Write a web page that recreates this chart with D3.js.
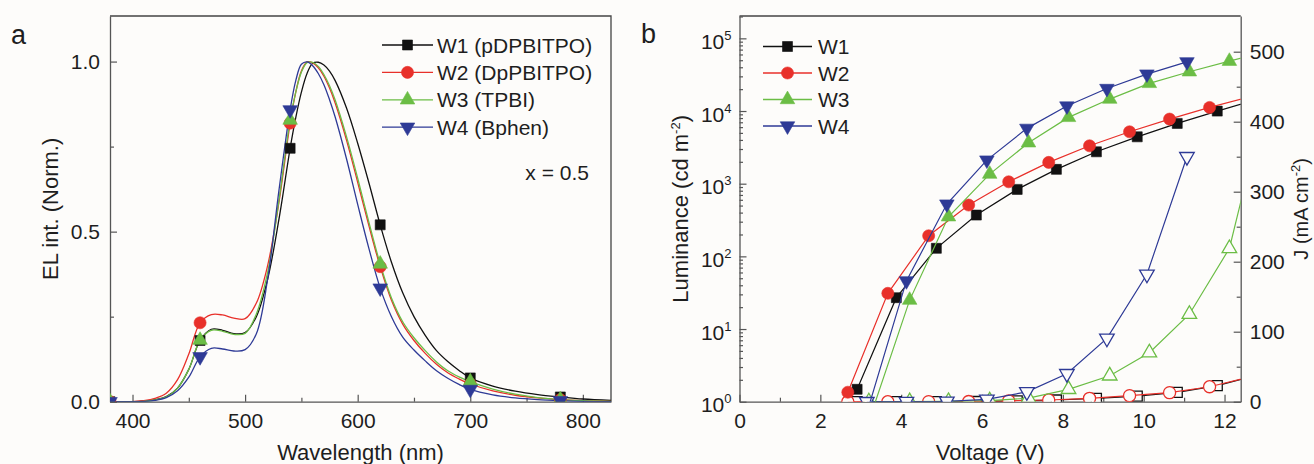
<!DOCTYPE html>
<html>
<head>
<meta charset="utf-8">
<script src="https://cdn.jsdelivr.net/npm/d3@7"></script>
<style>
  body { margin: 0; background: #fdfcfa; }
  svg { display: block; font-family: "Liberation Sans", Arial, sans-serif; }
</style>
</head>
<body>
<svg id="chart" width="1314" height="464"></svg>
<script>
// ---- data: panel a (EL spectra, normalised) ----
const wavelengths = [380,390,400,410,420,430,440,450,460,470,480,490,500,510,520,530,540,545,550,555,560,565,570,575,580,590,600,610,620,630,640,650,660,670,680,690,700,720,740,760,780,800,825];
const elW1 = [0,0,0,0.002,0.006,0.015,0.04,0.095,0.18,0.213,0.21,0.2,0.203,0.25,0.36,0.535,0.745,0.835,0.91,0.965,0.995,0.998,0.99,0.972,0.944,0.864,0.76,0.643,0.52,0.41,0.32,0.25,0.195,0.15,0.118,0.092,0.07,0.046,0.031,0.021,0.014,0.008,0.004];
const elW2 = [0,0,0,0.003,0.01,0.025,0.065,0.14,0.232,0.256,0.255,0.246,0.244,0.29,0.4,0.585,0.819,0.91,0.972,0.999,0.996,0.982,0.957,0.922,0.878,0.77,0.645,0.517,0.397,0.298,0.228,0.18,0.142,0.11,0.085,0.067,0.052,0.032,0.019,0.011,0.006,0.003,0.001];
const elW3 = [0,0,0,0.001,0.005,0.014,0.04,0.095,0.181,0.21,0.207,0.198,0.201,0.258,0.38,0.59,0.828,0.91,0.969,0.997,0.998,0.986,0.962,0.929,0.887,0.78,0.657,0.527,0.405,0.305,0.235,0.188,0.15,0.117,0.091,0.073,0.059,0.037,0.022,0.012,0.006,0.003,0.001];
const elW4 = [0,0,0,0.001,0.004,0.012,0.032,0.072,0.132,0.157,0.155,0.149,0.153,0.2,0.36,0.62,0.858,0.944,0.992,0.999,0.988,0.965,0.932,0.888,0.837,0.715,0.58,0.45,0.334,0.25,0.19,0.152,0.12,0.091,0.069,0.051,0.036,0.02,0.011,0.006,0.003,0.001,0];
const markerWaves = [380,460,540,620,700,780];
const waveTicks = [400,500,600,700,800];
const waveMinor = [450,550,650,750];
const elTicks = [0,0.5,1.0];
const elMinor = [0.25,0.75];
const namesA = ["W1 (pDPBITPO)","W2 (DpPBITPO)","W3 (TPBI)","W4 (Bphen)"];

// ---- data: panel b (luminance and current density vs voltage) ----
const voltW1 = [2.91,3.88,4.87,5.86,6.87,7.84,8.83,9.84,10.83,11.82,12.8];
const lumW1  = [1.48,27,129,370,835,1574,2746,4415,6750,9970,14500];
const curW1  = [0,0,0.1,0.3,1.2,2.4,4.8,8.1,13.4,22.9,38];
const voltW2 = [2.68,3.67,4.68,5.67,6.66,7.65,8.66,9.65,10.64,11.63,12.6];
const lumW2  = [1.35,31,192,508,1062,1963,3321,5176,7740,11200,15500];
const curW2  = [0,0,0.05,0.2,1.2,2.4,4.8,8.6,12.9,21.4,35];
const voltW3 = [3.2,4.21,5.17,6.19,7.15,8.14,9.16,10.14,11.13,12.12,13.1];
const lumW3  = [0.54,25,351,1355,3656,8170,14600,24000,34700,48500,67000];
const curW3  = [0,0.2,0.5,1.5,5,17.7,37,70,125,219,450];
const voltW4 = [3.15,4.13,5.13,6.12,7.11,8.1,9.09,10.08,11.07];
const lumW4  = [0.7,46,524,2112,5770,11700,20400,32200,47500];
const curW4  = [0,0.1,0.5,3.4,14,40,90.5,182,350];
const voltTicks = [0,2,4,6,8,10,12];
const voltMinor = [1,3,5,7,9,11];
const lumTicks = [1,10,100,1000,10000,100000];
const curTicks = [0,100,200,300,400,500];
const curMinor = [50,150,250,350,450];
const namesB = ["W1","W2","W3","W4"];

// ---- style ----
const colors = ["#111111","#e8302a","#6bbd45","#2e3a96"];
const symbols = ["square","circle","up","down"];
const FONT = "Liberation Sans, Arial, sans-serif";
const axisColor = "#555";
const textColor = "#1e1e1e";

const svg = d3.select("#chart");
const defs = svg.append("defs");

function symbolPath(kind){
    if (kind === "square") return d3.symbol(d3.symbolSquare, 100)();
    if (kind === "circle") return d3.symbol(d3.symbolCircle, 115)();
    return d3.symbol(d3.symbolTriangle, 92)();
}
function addMarker(g, kind, x, y, color, open){
    g.append("path")
        .attr("d", symbolPath(kind))
        .attr("transform", `translate(${x},${y})` + (kind === "down" ? " rotate(180)" : ""))
        .attr("fill", open ? "#fdfcfa" : color)
        .attr("stroke", color)
        .attr("stroke-width", open ? 1.3 : 0.6);
}
function styleAxis(g){
    g.attr("font-family", FONT).attr("font-size", 21);
    g.selectAll("line").attr("stroke", axisColor).attr("stroke-width", 1.2);
    g.selectAll("path.domain").attr("stroke", axisColor).attr("stroke-width", 1.3);
    g.selectAll("text").attr("fill", textColor);
}
function minorAxis(g){
    g.select(".domain").remove();
    g.selectAll("line").attr("stroke", axisColor).attr("stroke-width", 1.2);
}

// ================= panel a =================
const A = {l: 110, r: 611, t: 16, b: 401.7};
const xA = d3.scaleLinear([380, 825], [A.l, A.r]);
const yA = d3.scaleLinear([0, 1.134], [A.b, A.t]);

defs.append("clipPath").attr("id", "clipA").append("rect")
    .attr("x", A.l).attr("y", A.t).attr("width", A.r - A.l).attr("height", A.b - A.t);

const ga = svg.append("g");

// frame
ga.append("path").attr("d", `M${A.l},${A.t}H${A.r}V${A.b}`)
    .attr("fill", "none").attr("stroke", "#444").attr("stroke-width", 1.3);

ga.append("g").attr("transform", `translate(0,${A.b})`)
    .call(d3.axisBottom(xA).tickValues(waveTicks).tickSizeInner(-7).tickSizeOuter(0).tickPadding(11))
    .call(styleAxis);
ga.append("g").attr("transform", `translate(0,${A.b})`)
    .call(d3.axisBottom(xA).tickValues(waveMinor).tickSize(-4).tickFormat(""))
    .call(minorAxis);
ga.append("g").attr("transform", `translate(${A.l},0)`)
    .call(d3.axisLeft(yA).tickValues(elTicks).tickSizeInner(-7).tickSizeOuter(0).tickPadding(10).tickFormat(d3.format(".1f")))
    .call(styleAxis);
ga.append("g").attr("transform", `translate(${A.l},0)`)
    .call(d3.axisLeft(yA).tickValues(elMinor).tickSize(-4).tickFormat(""))
    .call(minorAxis);

const elSeries = [elW1, elW2, elW3, elW4];
const lineA = d3.line()
    .x(d => xA(d.w))
    .y(d => yA(d.v))
    .curve(d3.curveCatmullRom.alpha(0.5));

const plotA = ga.append("g").attr("clip-path", "url(#clipA)");
elSeries.forEach((vals, i) => {
    const pts = wavelengths.map((w, j) => ({w: w, v: vals[j]}));
    plotA.append("path")
        .datum(pts)
        .attr("d", lineA)
        .attr("fill", "none")
        .attr("stroke", colors[i])
        .attr("stroke-width", 1.3);
});
elSeries.forEach((vals, i) => {
    markerWaves.forEach(w => {
        const j = wavelengths.indexOf(w);
        addMarker(plotA, symbols[i], xA(w), yA(vals[j]), colors[i], false);
    });
});

// legend a
namesA.forEach((name, i) => {
    const y = 45 + 27.4 * i;
    ga.append("line").attr("x1", 382).attr("x2", 433).attr("y1", y).attr("y2", y)
        .attr("stroke", colors[i]).attr("stroke-width", 1.3);
    addMarker(ga, symbols[i], 407.5, y, colors[i], false);
    ga.append("text").attr("x", 437).attr("y", y + 7.5)
        .attr("font-size", 21).attr("fill", textColor).text(name);
});
ga.append("text").attr("x", 589).attr("y", 180).attr("text-anchor", "end")
    .attr("font-size", 21).attr("fill", textColor).text("x = 0.5");

ga.append("text").attr("transform", `translate(58,${(A.t + A.b) / 2}) rotate(-90)`)
    .attr("text-anchor", "middle").attr("font-size", 22).attr("fill", textColor)
    .text("EL int. (Norm.)");
ga.append("text").attr("x", (A.l + A.r) / 2).attr("y", 460)
    .attr("text-anchor", "middle").attr("font-size", 22).attr("fill", textColor)
    .text("Wavelength (nm)");
ga.append("text").attr("x", 11).attr("y", 44).attr("font-size", 27).attr("fill", textColor).text("a");

// ================= panel b =================
const B = {l: 739.5, r: 1240.7, t: 16, b: 401.7};
const xB = d3.scaleLinear([0, 12.4], [B.l, B.r]);
const yL = d3.scaleLog([1, 2.03e5], [B.b, B.t]);
const yJ = d3.scaleLinear([0, 551], [B.b, B.t]);

defs.append("clipPath").attr("id", "clipB").append("rect")
    .attr("x", B.l).attr("y", B.t).attr("width", B.r - B.l).attr("height", B.b - B.t);

const gb = svg.append("g");
gb.append("path").attr("d", `M${B.l},${B.t}H${B.r}`)
    .attr("fill", "none").attr("stroke", "#444").attr("stroke-width", 1.3);

gb.append("g").attr("transform", `translate(0,${B.b})`)
    .call(d3.axisBottom(xB).tickValues(voltTicks).tickSizeInner(-7).tickSizeOuter(0).tickPadding(11))
    .call(styleAxis);
gb.append("g").attr("transform", `translate(0,${B.b})`)
    .call(d3.axisBottom(xB).tickValues(voltMinor).tickSize(-4).tickFormat(""))
    .call(minorAxis);

// log axis with superscript labels
const lumMinor = [];
lumTicks.forEach(t => [2,3,4,5,6,7,8,9].forEach(m => { if (t * m <= 2.03e5) lumMinor.push(t * m); }));
const gl = gb.append("g").attr("transform", `translate(${B.l},0)`)
    .call(d3.axisLeft(yL).tickValues(lumTicks).tickSizeInner(-7).tickSizeOuter(0).tickFormat(""))
    .call(styleAxis);
gl.selectAll(".tick").each(function(d){
    const t = d3.select(this).append("text")
        .attr("x", -8).attr("y", 10).attr("text-anchor", "end")
        .attr("fill", textColor).attr("font-size", 21);
    t.append("tspan").text("10");
    t.append("tspan").attr("dy", -9).attr("font-size", 13).text(Math.round(Math.log10(d)));
});
gb.append("g").attr("transform", `translate(${B.l},0)`)
    .call(d3.axisLeft(yL).tickValues(lumMinor).tickSize(-3.5).tickFormat(""))
    .call(minorAxis);

gb.append("g").attr("transform", `translate(${B.r},0)`)
    .call(d3.axisRight(yJ).tickValues(curTicks).tickSizeInner(-7).tickSizeOuter(0).tickPadding(9))
    .call(styleAxis);
gb.append("g").attr("transform", `translate(${B.r},0)`)
    .call(d3.axisRight(yJ).tickValues(curMinor).tickSize(-4).tickFormat(""))
    .call(minorAxis);

const plotB = gb.append("g").attr("clip-path", "url(#clipB)");
const volts = [voltW1, voltW2, voltW3, voltW4];
const lums = [lumW1, lumW2, lumW3, lumW4];
const curs = [curW1, curW2, curW3, curW4];

const lineJ = d3.line().x(d => xB(d.v)).y(d => yJ(d.y));
const lineL = d3.line().x(d => xB(d.v)).y(d => yL(d.y));

// current density (open symbols)
curs.forEach((vals, i) => {
    const pts = volts[i].map((v, j) => ({v: v, y: vals[j]}));
    plotB.append("path").datum(pts).attr("d", lineJ)
        .attr("fill", "none").attr("stroke", colors[i]).attr("stroke-width", 1.2);
    pts.filter(p => p.v <= 12.4).forEach(p => addMarker(plotB, symbols[i], xB(p.v), yJ(p.y), colors[i], true));
});
// luminance (filled symbols)
lums.forEach((vals, i) => {
    const pts = volts[i].map((v, j) => ({v: v, y: vals[j]}));
    plotB.append("path").datum(pts).attr("d", lineL)
        .attr("fill", "none").attr("stroke", colors[i]).attr("stroke-width", 1.2);
    pts.filter(p => p.v <= 12.4).forEach(p => addMarker(plotB, symbols[i], xB(p.v), yL(p.y), colors[i], false));
});

// legend b
namesB.forEach((name, i) => {
    const y = 46.5 + 26.5 * i;
    gb.append("line").attr("x1", 763).attr("x2", 812).attr("y1", y).attr("y2", y)
        .attr("stroke", colors[i]).attr("stroke-width", 1.3);
    addMarker(gb, symbols[i], 787.5, y, colors[i], false);
    gb.append("text").attr("x", 818).attr("y", y + 7.5)
        .attr("font-size", 21).attr("fill", textColor).text(name);
});

function unitLabel(g, x, y, head, size){
    const t = g.append("text").attr("transform", `translate(${x},${y}) rotate(-90)`)
        .attr("text-anchor", "middle").attr("font-size", size).attr("fill", textColor);
    t.append("tspan").text(head);
    t.append("tspan").attr("dy", -8).attr("font-size", 13).text("-2");
    t.append("tspan").attr("dy", 8).text(")");
}
unitLabel(gb, 688, (B.t + B.b) / 2, "Luminance (cd m", 22);
unitLabel(gb, 1308, (B.t + B.b) / 2, "J (mA cm", 20);
gb.append("text").attr("x", (B.l + B.r) / 2).attr("y", 460)
    .attr("text-anchor", "middle").attr("font-size", 22).attr("fill", textColor)
    .text("Voltage (V)");
gb.append("text").attr("x", 641).attr("y", 43).attr("font-size", 27).attr("fill", textColor).text("b");
</script>
</body>
</html>
